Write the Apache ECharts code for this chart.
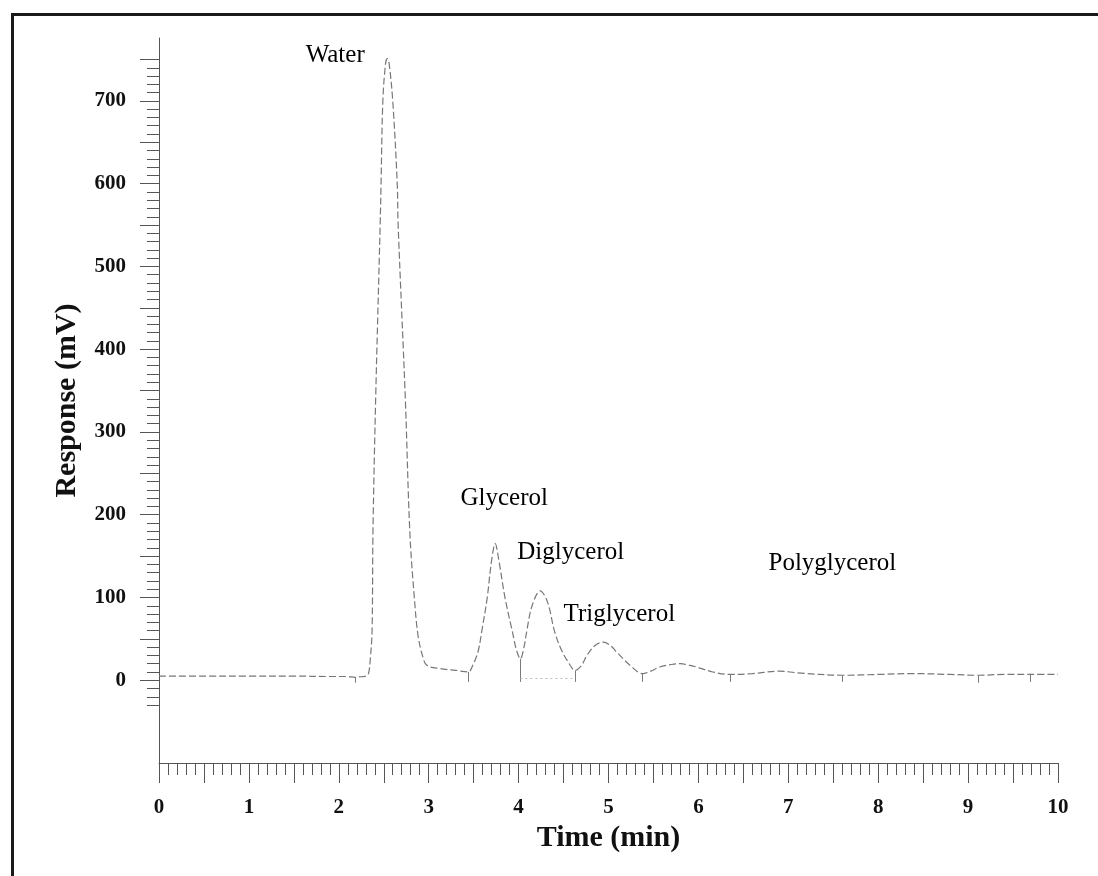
<!DOCTYPE html>
<html>
<head>
<meta charset="utf-8">
<script src="https://cdn.jsdelivr.net/npm/echarts@6/dist/echarts.min.js"></script>
<style>html,body{margin:0;padding:0;background:#fff}#c{width:1098px;height:876px}</style>
</head>
<body>
<div id="c"></div>
<script>
// Chromatogram trace: time (min) and response (mV)
var times = [0, 0.5, 1.0, 1.5, 1.9, 2.1, 2.18, 2.22, 2.3, 2.33, 2.35, 2.37, 2.38, 2.41, 2.46, 2.47, 2.49, 2.52, 2.54, 2.56, 2.60, 2.65, 2.66, 2.74, 2.79, 2.84, 2.88, 2.93, 2.98, 3.13, 3.30, 3.44, 3.49, 3.55, 3.59, 3.65, 3.70, 3.74, 3.78, 3.85, 3.93, 3.98, 4.02, 4.06, 4.09, 4.15, 4.24, 4.32, 4.40, 4.47, 4.54, 4.63, 4.70, 4.76, 4.85, 4.94, 5.02, 5.09, 5.24, 5.38, 5.47, 5.57, 5.70, 5.80, 5.90, 5.98, 6.16, 6.35, 6.6, 6.9, 7.1, 7.6, 8.0, 8.4, 8.8, 9.11, 9.4, 9.69, 10.0];
var response = [5, 5, 5, 5, 4.5, 4.5, 3.5, 4, 5, 8, 25, 59, 179, 340, 550, 600, 700, 745, 751, 745, 700, 600, 550, 340, 179, 100, 55, 30, 18, 14, 12, 10, 18, 35, 59, 99, 145, 165, 145, 99, 59, 35, 26, 40, 59, 90, 108, 95, 59, 38, 24, 12, 18, 30, 42, 46, 42, 34, 18, 8, 11, 16, 19, 20, 18, 16, 10, 7, 8, 11, 9, 6, 7, 8, 7, 6, 7, 7, 7];

// integration drop marks at valleys
var dropTimes = [2.18, 3.44, 4.02, 4.63, 5.38, 6.35, 7.6, 9.11, 9.69];
var dropTop = [3.5, 10, 26, 12, 8, 7, 6, 6, 7];
var dropBottom = [-3, -2, -2, -2, -2, -2, -2, -3, -2];

// peak annotations
var annoNames = ['Water', 'Glycerol', 'Diglycerol', 'Triglycerol', 'Polyglycerol'];
var annoTimes = [1.96, 3.84, 4.58, 5.12, 7.49];
var annoValues = [755, 220, 155, 79, 141];

// tick labels
var xLabels = [0, 1, 2, 3, 4, 5, 6, 7, 8, 9, 10];
var yLabels = [0, 100, 200, 300, 400, 500, 600, 700];

function range(a, b, step) {
  var r = [];
  for (var i = 0; a + i * step <= b + 1e-9; i++) r.push(+(a + i * step).toFixed(4));
  return r;
}
var xMajorTicks = range(0, 10, 0.5);
var xMinorTicks = range(0, 10, 0.1);
var yMajorTicks = range(0, 750, 50);
var yMinorTicks = range(-30, 750, 10);

var trace = times.map(function (t, i) { return [t, response[i]]; });
var dropData = dropTimes.map(function (t, i) {
  return [{ coord: [t, dropTop[i]] }, { coord: [t, dropBottom[i]] }];
});
dropData.push([{ coord: [dropTimes[2], 2], lineStyle: { type: [2, 3], color: '#bbb' } }, { coord: [dropTimes[3], 2] }]);
var annoData = annoNames.map(function (n, i) { return { name: n, value: [annoTimes[i], annoValues[i]] }; });

var serif = '"Liberation Serif", "Times New Roman", serif';
var tickColor = '#555';
var XMIN = 0, XMAX = 10, YMIN = -100, YMAX = 776;

var chart = echarts.init(document.getElementById('c'), null, { renderer: 'canvas' });
chart.setOption({
  backgroundColor: '#fff',
  animation: false,
  grid: { left: 159, right: 40, top: 38, bottom: 113, containLabel: false },
  graphic: [{
    type: 'rect', left: 10, top: 12, z: 100,
    shape: { x: 0, y: 0, width: 1200, height: 1000 },
    style: { fill: 'none', stroke: '#1a1a1a', lineWidth: 3 }
  }],
  xAxis: [{
    type: 'value', min: XMIN, max: XMAX, position: 'bottom',
    name: 'Time (min)', nameLocation: 'middle', nameGap: 56,
    nameTextStyle: { fontFamily: serif, fontWeight: 'bold', fontSize: 30, color: '#111' },
    axisLine: { show: true, onZero: false, lineStyle: { color: tickColor, width: 1 } },
    axisTick: { show: true, customValues: xMajorTicks, length: 20, inside: false, lineStyle: { color: tickColor, width: 1 } },
    axisLabel: { show: true, customValues: xLabels, margin: 34, fontFamily: serif, fontWeight: 'bold', fontSize: 21, color: '#111' },
    splitLine: { show: false }
  }, {
    type: 'value', min: XMIN, max: XMAX, position: 'bottom',
    axisLine: { show: false, onZero: false },
    axisTick: { show: true, customValues: xMinorTicks, length: 12, inside: false, lineStyle: { color: tickColor, width: 1 } },
    axisLabel: { show: false },
    splitLine: { show: false }
  }],
  yAxis: [{
    type: 'value', min: YMIN, max: YMAX, position: 'left',
    name: 'Response (mV)', nameLocation: 'middle', nameGap: 77, nameRotate: 90,
    nameTextStyle: { fontFamily: serif, fontWeight: 'bold', fontSize: 30, color: '#111' },
    axisLine: { show: true, onZero: false, lineStyle: { color: tickColor, width: 1 } },
    axisTick: { show: true, customValues: yMajorTicks, length: 19, inside: false, lineStyle: { color: tickColor, width: 1 } },
    axisLabel: { show: true, customValues: yLabels, margin: 33, fontFamily: serif, fontWeight: 'bold', fontSize: 21, color: '#111' },
    splitLine: { show: false }
  }, {
    type: 'value', min: YMIN, max: YMAX, position: 'left',
    axisLine: { show: false, onZero: false },
    axisTick: { show: true, customValues: yMinorTicks, length: 12, inside: false, lineStyle: { color: tickColor, width: 1 } },
    axisLabel: { show: false },
    splitLine: { show: false }
  }],
  series: [{
    type: 'line', xAxisIndex: 0, yAxisIndex: 0,
    data: trace, showSymbol: false, symbol: 'none', smooth: 0.35,
    lineStyle: { color: '#777', width: 1.2, type: [7, 3] },
    markLine: {
      silent: true, symbol: 'none', label: { show: false },
      lineStyle: { color: '#7a7a7a', width: 1, type: 'solid' },
      data: dropData
    }
  }, {
    type: 'scatter', xAxisIndex: 0, yAxisIndex: 0,
    data: annoData, symbolSize: 0, silent: true,
    itemStyle: { color: '#000', opacity: 1 },
    label: {
      show: true, position: 'inside', formatter: '{b}',
      fontFamily: serif, fontSize: 25, color: '#000', opacity: 1
    }
  }]
});
</script>
</body>
</html>
